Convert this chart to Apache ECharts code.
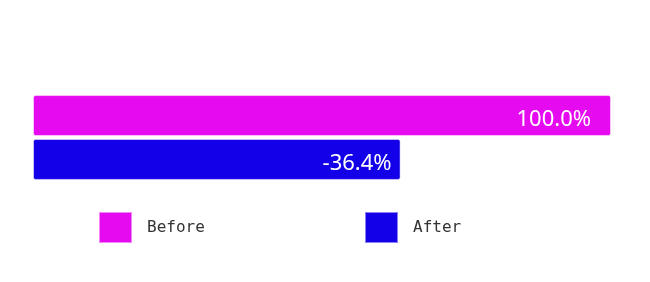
<!DOCTYPE html>
<html><head><meta charset="utf-8">
<script src="https://cdn.jsdelivr.net/npm/echarts@6/dist/echarts.min.js"></script>
<style>html,body{margin:0;padding:0;background:#fff}#c{width:650px;height:282px}</style>
</head><body><div id="c"></div>
<script>
const categories = [''];
const seriesNames = ['Before', 'After'];
const beforeValues = [100];
const afterValues = [63.6];
const barLabels = ['100.0%', '-36.4%'];
const colors = ['#E60AF0', '#1400E8'];

const chart = echarts.init(document.getElementById('c'), null, {renderer: 'canvas'});
const mk = (name, data, color, label, dist) => ({
  name, type: 'bar', data, barWidth: 41, barGap: '7%',
  itemStyle: {color, borderColor: 'rgba(255,255,255,0.5)', borderWidth: 1, borderRadius: 2},
  label: {show: true, position: 'insideRight', distance: dist, offset: [0, 4], color: '#fff',
    fontFamily: 'Noto Sans', fontSize: 22, formatter: () => label}
});
chart.setOption({
  animation: false,
  grid: {left: 33, right: 39, top: 80, bottom: 87},
  xAxis: {type: 'value', min: 0, max: 100, show: false},
  yAxis: {type: 'category', data: categories, show: false, inverse: true},
  legend: [
    {data: [seriesNames[0]], left: 93, top: 206, itemWidth: 33, itemHeight: 31,
     icon: 'rect', textStyle: {fontSize: 16, color: '#333', fontFamily: 'DejaVu Sans Mono', padding: [0,0,0,10]}},
    {data: [seriesNames[1]], left: 359, top: 206, itemWidth: 33, itemHeight: 31,
     icon: 'rect', textStyle: {fontSize: 16, color: '#333', fontFamily: 'DejaVu Sans Mono', padding: [0,0,0,10]}}
  ],
  series: [
    mk(seriesNames[0], beforeValues, colors[0], barLabels[0], 20),
    mk(seriesNames[1], afterValues, colors[1], barLabels[1], 9)
  ]
});
</script></body></html>
